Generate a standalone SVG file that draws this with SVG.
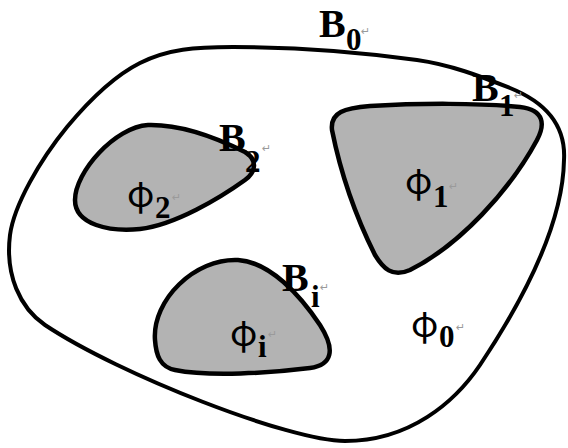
<svg xmlns="http://www.w3.org/2000/svg" width="568" height="448" viewBox="0 0 568 448">
<style>
.outer{fill:#ffffff;stroke:#000;stroke-width:4;stroke-linejoin:round}
.hole{fill:#b3b3b3;stroke:#000;stroke-width:4.5;stroke-linejoin:round}
.b{font-family:"Liberation Serif",serif;font-weight:bold;font-size:40px;fill:#000}
.bs{font-family:"Liberation Serif",serif;font-weight:bold;font-size:31px;fill:#000}
.phi{font-family:"Noto Sans CJK SC","Liberation Serif",serif;font-size:36px;fill:#000}
.ps{font-family:"Liberation Serif",serif;font-weight:bold;font-size:31px;fill:#000}
.ret{font-family:"DejaVu Sans",sans-serif;font-weight:normal;font-size:11px;fill:#9a9a9a}
</style>
<rect width="568" height="448" fill="#fff"/>
<g id="region0">
<path class="outer" d="M233,47 C300,47 360,52 417,60 C450,64.6 480,76 510,88 C545,102 566,125 564,160 C563,220 530,290 480,365 C455,402 410,441 345,441 C290,441 120,375 45,325 C20,308 5,275 10,235 C14,205 40,160 67,127 C87,103 112,77 140,63 C168,49 195,47 233,47 Z"/>
</g>
<g id="region2">
<path class="hole" d="M75,200 C75,172 115,127 148,125 C185,124 225,142 245,152 C258,160 256,172 245,180 C220,198 175,225 140,229 C110,232 75,225 75,200 Z"/>
</g>
<g id="region1">
<path class="hole" d="M332,130 C330,112 345,108 370,106 C420,103 480,103 520,107 C545,110 545,125 537,140 C510,190 460,245 410,270 C392,278 383,268 375,255 C355,215 340,170 332,130 Z"/>
</g>
<g id="regioni">
<path class="hole" d="M155,340 C152,300 195,258 238,260 C270,262 300,295 320,325 C336,350 332,365 310,368 C270,373 210,377 175,370 C160,367 156,355 155,340 Z"/>
</g>
<g id="labels">
<text class="b" x="319" y="37">B<tspan class="bs" x="346" y="50">0</tspan><tspan class="ret" x="361" y="35">↵</tspan></text>
<text class="b" x="472" y="101">B<tspan class="bs" x="499" y="116">1</tspan><tspan class="ret" x="514" y="99">↵</tspan></text>
<text class="b" x="219" y="151">B<tspan class="bs" x="245" y="172">2</tspan><tspan class="ret" x="262" y="152">↵</tspan></text>
<text class="b" x="282" y="291">B<tspan class="bs" x="311" y="307">i</tspan><tspan class="ret" x="320" y="291">↵</tspan></text>
<text class="phi" x="405" y="194">φ<tspan class="ps" x="433" y="207">1</tspan><tspan class="ret" x="449" y="190">↵</tspan></text>
<text class="phi" x="127" y="207">φ<tspan class="ps" x="155" y="218">2</tspan><tspan class="ret" x="172" y="201">↵</tspan></text>
<text class="phi" x="230" y="346">φ<tspan class="ps" x="258" y="357">i</tspan><tspan class="ret" x="268" y="338">↵</tspan></text>
<text class="phi" x="411" y="337">φ<tspan class="ps" x="439" y="347">0</tspan><tspan class="ret" x="456" y="331">↵</tspan></text>
</g>
</svg>
